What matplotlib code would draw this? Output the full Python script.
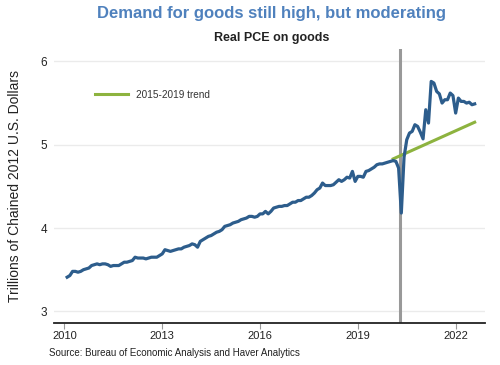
import matplotlib
matplotlib.use("Agg")
import matplotlib.pyplot as plt
import numpy as np

plt.rcParams['font.family'] = ['Liberation Sans', 'DejaVu Sans']

# Real PCE on goods, trillions of chained 2012 dollars, monthly Jan 2010 - Jul 2022
start_year = 2010
pce_goods = [
    # 2010
    3.41, 3.43, 3.48, 3.48, 3.47, 3.48, 3.50, 3.51, 3.52, 3.55, 3.56, 3.57,
    # 2011
    3.56, 3.57, 3.57, 3.56, 3.54, 3.55, 3.55, 3.55, 3.57, 3.59, 3.59, 3.60,
    # 2012
    3.61, 3.65, 3.64, 3.64, 3.64, 3.63, 3.64, 3.65, 3.65, 3.65, 3.67, 3.69,
    # 2013
    3.74, 3.73, 3.72, 3.73, 3.74, 3.75, 3.75, 3.77, 3.78, 3.79, 3.81, 3.80,
    # 2014
    3.77, 3.84, 3.86, 3.88, 3.90, 3.91, 3.93, 3.95, 3.96, 3.98, 4.02, 4.03,
    # 2015
    4.04, 4.06, 4.07, 4.08, 4.10, 4.11, 4.12, 4.14, 4.14, 4.13, 4.14, 4.17,
    # 2016
    4.17, 4.20, 4.17, 4.20, 4.24, 4.25, 4.26, 4.26, 4.27, 4.27, 4.29, 4.31,
    # 2017
    4.31, 4.33, 4.33, 4.35, 4.37, 4.37, 4.39, 4.42, 4.46, 4.48, 4.54, 4.51,
    # 2018
    4.51, 4.51, 4.52, 4.55, 4.58, 4.56, 4.58, 4.61, 4.60, 4.68, 4.56, 4.62,
    # 2019
    4.62, 4.61, 4.68, 4.69, 4.71, 4.73, 4.76, 4.77, 4.77, 4.78, 4.79, 4.80,
    # 2020
    4.81, 4.80, 4.72, 4.18, 4.85, 5.06, 5.14, 5.16, 5.24, 5.22, 5.15, 5.07,
    # 2021
    5.42, 5.26, 5.76, 5.74, 5.64, 5.61, 5.50, 5.54, 5.54, 5.62, 5.59, 5.38,
    # 2022
    5.56, 5.52, 5.52, 5.50, 5.51, 5.48, 5.49,
]

# 2015-2019 trend, extended from Jan 2020 to Jul 2022
trend_dates = [2020 + 1 / 12, 2022 + 7 / 12]
trend_values = [4.83, 5.27]

pandemic_line = 2020.30

xticks = [2010, 2013, 2016, 2019, 2022]
yticks = [3, 4, 5, 6]

BLUE = "#2d5d8c"
GREEN = "#8db33f"

# month-end positions
dates = start_year + (np.arange(len(pce_goods)) + 1) / 12

fig = plt.figure(figsize=(5, 3.65), dpi=100)
ax = fig.add_axes([0.108, 0.115, 0.862, 0.751])

ax.grid(axis='y', color='#ebebeb', linewidth=1.0)
ax.set_axisbelow(True)

ax.axvline(pandemic_line, color='#999999', linewidth=2.2, zorder=2)
ax.plot(trend_dates, trend_values, color=GREEN, linewidth=2.2, label='2015-2019 trend', zorder=3)
ax.plot(dates, pce_goods, color=BLUE, linewidth=2.3, zorder=4)

ax.set_xlim(2009.68, 2022.9)
ax.set_ylim(2.86, 6.15)
ax.set_xticks(xticks)
ax.set_yticks(yticks)
ax.tick_params(axis='x', length=4, color='#999999', labelsize=8, colors='#222222', pad=2)
ax.tick_params(axis='y', length=0, labelsize=8.5, colors='#222222', pad=5)
for s in ['top', 'right', 'left']:
    ax.spines[s].set_visible(False)
ax.spines['bottom'].set_color('#222222')
ax.spines['bottom'].set_linewidth(1.3)

ax.set_ylabel("Trillions of Chained 2012 U.S. Dollars", fontsize=10, color='#222222', labelpad=13)

leg = ax.legend(loc='center left', bbox_to_anchor=(0.095, 0.832), frameon=False,
                fontsize=7.2, handlelength=3.3, handletextpad=0.8, borderpad=0, borderaxespad=0)
for t in leg.get_texts():
    t.set_color('#333333')

fig.text(0.543, 0.964, "Demand for goods still high, but moderating", ha='center', va='center',
         fontsize=12, fontweight='bold', color='#4f81bd')
fig.text(0.543, 0.896, "Real PCE on goods", ha='center', va='center',
         fontsize=9, fontweight='bold', color='#222222')
fig.text(0.098, 0.033, "Source: Bureau of Economic Analysis and Haver Analytics", ha='left', va='center',
         fontsize=7, color='#222222')

fig.savefig("out.png", dpi=100)
